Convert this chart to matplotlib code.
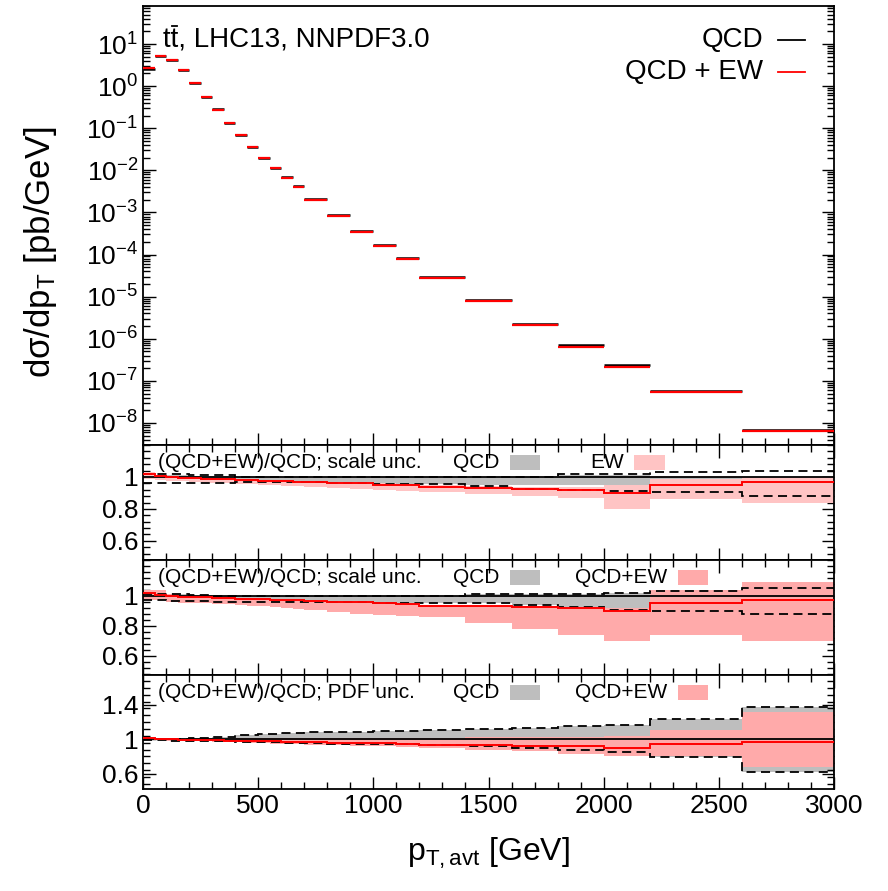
import numpy as np
import matplotlib
matplotlib.use('Agg')
import matplotlib.pyplot as plt
from matplotlib.ticker import MultipleLocator, FixedLocator, LogLocator, NullFormatter, FixedFormatter
from matplotlib.lines import Line2D
from matplotlib.patches import Rectangle

plt.rcParams['font.family'] = ['Liberation Sans', 'DejaVu Sans']
plt.rcParams['mathtext.fontset'] = 'custom'
plt.rcParams['mathtext.rm'] = 'Liberation Sans'
plt.rcParams['mathtext.it'] = 'Liberation Sans:italic'
plt.rcParams['mathtext.sf'] = 'Liberation Sans'

# ---------------- data ----------------
edges = [0, 50, 100, 150, 200, 250, 300, 350, 400, 450, 500, 550, 600, 650, 700,
         800, 900, 1000, 1100, 1200, 1400, 1600, 1800, 2000, 2200, 2600, 3000]

qcd = [2.6, 5.3, 4.2, 2.4, 1.2, 0.55, 0.28, 0.134, 0.070, 0.0357, 0.020, 0.0116,
       0.0068, 0.0042, 0.0021, 8.5e-4, 3.6e-4, 1.7e-4, 8.2e-5, 3.0e-5, 8.3e-6,
       2.3e-6, 7.0e-7, 2.4e-7, 5.6e-8, 6.8e-9]

ratio = [1.02, 1.005, 0.998, 0.995, 0.993, 0.99, 0.987, 0.985, 0.982, 0.98, 0.977,
         0.975, 0.972, 0.97, 0.966, 0.962, 0.96, 0.952, 0.948, 0.935, 0.93, 0.922,
         0.918, 0.90, 0.95, 0.97]

# panel 1: scale unc., QCD (grey) and EW (pink)
p1_grey_lo = [0.985, 0.98, 0.978, 0.976, 0.975, 0.974, 0.972, 0.97, 0.97, 0.968, 0.967,
              0.966, 0.965, 0.964, 0.963, 0.96, 0.958, 0.957, 0.955, 0.955, 0.952, 0.95,
              0.95, 0.95, 0.96, 0.965]
p1_grey_hi = [1.01, 1.01, 1.01, 1.01, 1.005, 1.005, 1.005, 1.005, 1.0, 1.0, 1.0, 1.0,
              1.0, 1.0, 1.0, 1.0, 1.0, 1.0, 1.0, 1.0, 1.0, 1.0, 1.01, 1.01, 1.0, 1.0]
p1_pink_lo = [0.99, 0.98, 0.975, 0.972, 0.968, 0.965, 0.962, 0.96, 0.957, 0.955, 0.952,
              0.95, 0.945, 0.942, 0.94, 0.93, 0.925, 0.92, 0.915, 0.905, 0.895, 0.88,
              0.87, 0.80, 0.86, 0.84]
p1_pink_hi = [1.03, 1.01, 1.0, 0.998, 0.995, 0.993, 0.99, 0.988, 0.985, 0.983, 0.98,
              0.978, 0.975, 0.973, 0.97, 0.968, 0.965, 0.96, 0.958, 0.95, 0.945, 0.94,
              0.935, 0.95, 0.99, 1.0]
p1_dash_hi = [1.02, 1.02, 1.02, 1.02, 1.015, 1.015, 1.015, 1.015, 1.0, 1.0, 1.0, 1.0,
              1.0, 1.0, 1.0, 1.0, 1.0, 1.0, 1.0, 1.0, 1.0, 1.0, 1.02, 1.02, 1.03, 1.04]
p1_dash_lo = [0.96, 0.96, 0.96, 0.96, 0.965, 0.965, 0.965, 0.965, 0.968, 0.968, 0.968,
              0.968, 0.968, 0.968, 0.966, 0.965, 0.963, 0.958, 0.956, 0.955, 0.945, 0.925,
              0.92, 0.91, 0.905, 0.88]

# panel 2: scale unc., QCD (grey) and QCD+EW (pink)
p2_dash_hi = [1.01, 1.01, 1.01, 1.01, 1.005, 1.005, 1.0, 1.0, 1.0, 1.0, 1.0, 1.0, 1.0,
              1.0, 1.0, 1.0, 1.0, 1.0, 1.0, 1.0, 1.01, 1.01, 1.01, 1.02, 1.035, 1.05]
p2_dash_lo = [0.97, 0.97, 0.965, 0.965, 0.965, 0.965, 0.962, 0.962, 0.96, 0.96, 0.96,
              0.96, 0.96, 0.96, 0.958, 0.958, 0.956, 0.955, 0.953, 0.952, 0.95, 0.94,
              0.925, 0.905, 0.90, 0.88]
p2_pink_hi = [1.04, 1.04, 1.01, 1.0, 0.995, 0.99, 0.988, 0.985, 0.982, 0.98, 0.977,
              0.975, 0.972, 0.97, 0.966, 0.962, 0.96, 0.952, 0.948, 0.94, 0.935, 0.93,
              0.925, 0.92, 1.04, 1.09]
p2_pink_lo = [0.97, 0.97, 0.96, 0.955, 0.954, 0.95, 0.945, 0.943, 0.94, 0.935, 0.93,
              0.924, 0.92, 0.915, 0.908, 0.89, 0.88, 0.874, 0.865, 0.856, 0.817, 0.776,
              0.737, 0.70, 0.737, 0.70]

# panel 3: PDF unc., QCD (grey) and QCD+EW (pink)
p3_dash_hi = [1.0, 1.0, 1.0, 1.0, 1.02, 1.02, 1.03, 1.03, 1.05, 1.05, 1.06, 1.06, 1.07,
              1.07, 1.08, 1.08, 1.09, 1.1, 1.1, 1.11, 1.12, 1.13, 1.15, 1.17, 1.24, 1.38]
p3_dash_lo = [0.99, 0.99, 0.985, 0.985, 0.98, 0.98, 0.975, 0.975, 0.97, 0.97, 0.965,
              0.965, 0.96, 0.96, 0.955, 0.95, 0.95, 0.94, 0.94, 0.93, 0.92, 0.90, 0.88,
              0.85, 0.79, 0.62]
p3_pink_hi = [1.02, 1.0, 1.0, 1.0, 1.0, 1.0, 1.0, 1.0, 1.01, 1.01, 1.01, 1.01, 1.02,
              1.02, 1.02, 1.02, 1.02, 1.02, 1.02, 1.02, 1.03, 1.03, 1.03, 1.04, 1.11, 1.32]
p3_pink_lo = [0.99, 0.99, 0.985, 0.98, 0.975, 0.975, 0.97, 0.965, 0.965, 0.96, 0.955,
              0.95, 0.945, 0.94, 0.935, 0.93, 0.925, 0.92, 0.915, 0.90, 0.88, 0.86, 0.83,
              0.81, 0.81, 0.68]

xticks = [0, 500, 1000, 1500, 2000, 2500, 3000]

# ---------------- figure ----------------
W, H = 888, 891
fig = plt.figure(figsize=(W / 100, H / 100), dpi=100)
XL, XR = 143, 834

def make_ax(top, bot):
    return fig.add_axes([XL / W, 1 - bot / H, (XR - XL) / W, (bot - top) / H])

ax0 = make_ax(6, 445)
ax1 = make_ax(445, 560)
ax2 = make_ax(560, 675)
ax3 = make_ax(675, 789)

edges_a = np.array(edges, dtype=float)
qcd_a = np.array(qcd)
ratio_a = np.array(ratio)
qcdew_a = qcd_a * ratio_a

GREY = '#bebebe'
PINK1 = '#ffc4c4'
PINK2 = '#ffaaaa'
FS_TICK = 19

# main panel
ax0.hlines(qcd_a, edges_a[:-1], edges_a[1:], color='black', lw=1.8, zorder=3)
ax0.hlines(qcdew_a, edges_a[:-1], edges_a[1:], color='red', lw=1.6, zorder=4)
ax0.set_yscale('log')
ax0.set_ylim(3e-9, 80)
ax0.set_xlim(0, 3000)
ax0.yaxis.set_major_locator(FixedLocator([10.0 ** k for k in range(-8, 2)]))
ax0.yaxis.set_major_formatter(FixedFormatter(
    [r'$10^{%d}$' % k if k >= 0 else r'$10^{-%d}$' % (-k) for k in range(-8, 2)]))
ax0.yaxis.set_minor_locator(LogLocator(base=10, subs=np.arange(2, 10), numticks=30))
ax0.yaxis.set_minor_formatter(NullFormatter())
ax0.set_ylabel('d\u03c3/dp$_\\mathrm{T}$ [pb/GeV]', fontsize=25)
ax0.yaxis.set_label_coords(-0.122, 0.44)

# title with a bar over the second t
title = ax0.text(0.029, 0.923, 'tt, LHC13, NNPDF3.0', transform=ax0.transAxes,
                 fontsize=20, ha='left', va='center')
fig.canvas.draw()
renderer = fig.canvas.get_renderer()
tmp = ax0.text(0.029, 0.923, 't', transform=ax0.transAxes, fontsize=20, ha='left', va='center')
tw = tmp.get_window_extent(renderer).width
tb = tmp.get_window_extent(renderer)
tmp.remove()
x0d = tb.x0 + tw + 1.0
x1d = tb.x0 + 2 * tw - 1.0
ybar = tb.y1 + 1.0
inv = ax0.transAxes.inverted()
(bx0, by), (bx1, _) = inv.transform([(x0d, ybar), (x1d, ybar)])
ax0.add_line(Line2D([bx0, bx1], [by, by], transform=ax0.transAxes, color='black', lw=1.3))

ax0.text(0.898, 0.923, 'QCD', transform=ax0.transAxes, fontsize=20, ha='right', va='center')
ax0.text(0.898, 0.850, 'QCD + EW', transform=ax0.transAxes, fontsize=20, ha='right', va='center')
ax0.add_line(Line2D([0.919, 0.958], [0.923, 0.923], transform=ax0.transAxes, color='black', lw=1.3))
ax0.add_line(Line2D([0.919, 0.958], [0.850, 0.850], transform=ax0.transAxes, color='red', lw=1.3))

def ratio_panel(ax, grey_lo, grey_hi, pink_lo, pink_hi, pink_col, dash_lo, dash_hi,
                label, pinklabel, pinkx, boxx):
    ax.stairs(grey_hi, edges_a, baseline=grey_lo, fill=True, color=GREY, lw=0, zorder=1)
    ax.stairs(pink_hi, edges_a, baseline=pink_lo, fill=True, color=pink_col, lw=0, zorder=2)
    ax.axhline(1.0, color='black', lw=1.3, zorder=3)
    ax.stairs(dash_hi, edges_a, baseline=None, color='black', lw=1.3, ls=(0, (5, 3)), zorder=4)
    ax.stairs(dash_lo, edges_a, baseline=None, color='black', lw=1.3, ls=(0, (5, 3)), zorder=4)
    ax.stairs(ratio_a, edges_a, baseline=None, color='red', lw=1.4, zorder=5)
    ax.set_xlim(0, 3000)
    ax.text(0.0217, 0.845, label, transform=ax.transAxes, fontsize=15, ha='left', va='center')
    ax.text(0.449, 0.845, 'QCD', transform=ax.transAxes, fontsize=15, ha='left', va='center')
    ax.add_patch(Rectangle((0.531, 0.78), 0.044, 0.13, transform=ax.transAxes,
                           color=GREY, lw=0))
    ax.text(pinkx, 0.845, pinklabel, transform=ax.transAxes, fontsize=15, ha='left', va='center')
    ax.add_patch(Rectangle((boxx, 0.78), 0.044, 0.13, transform=ax.transAxes,
                           color=pink_col, lw=0))

ratio_panel(ax1, p1_grey_lo, p1_grey_hi, p1_pink_lo, p1_pink_hi, PINK1, p1_dash_lo, p1_dash_hi,
            '(QCD+EW)/QCD; scale unc.', 'EW', 0.647, 0.711)
ratio_panel(ax2, p2_dash_lo, p2_dash_hi, p2_pink_lo, p2_pink_hi, PINK2, p2_dash_lo, p2_dash_hi,
            '(QCD+EW)/QCD; scale unc.', 'QCD+EW', 0.625, 0.774)
ratio_panel(ax3, p3_dash_lo, p3_dash_hi, p3_pink_lo, p3_pink_hi, PINK2, p3_dash_lo, p3_dash_hi,
            '(QCD+EW)/QCD; PDF unc.', 'QCD+EW', 0.625, 0.774)

ax1.set_ylim(0.48, 1.2)
ax2.set_ylim(0.47, 1.24)
ax3.set_ylim(0.42, 1.75)
for ax in (ax1, ax2):
    ax.yaxis.set_major_locator(FixedLocator([0.6, 0.8, 1.0]))
    ax.yaxis.set_major_formatter(FixedFormatter(['0.6', '0.8', '1']))
    ax.yaxis.set_minor_locator(MultipleLocator(0.04))
ax3.yaxis.set_major_locator(FixedLocator([0.6, 1.0, 1.4]))
ax3.yaxis.set_major_formatter(FixedFormatter(['0.6', '1', '1.4']))
ax3.yaxis.set_minor_locator(MultipleLocator(0.08))

for ax in (ax0, ax1, ax2, ax3):
    ax.xaxis.set_major_locator(FixedLocator(xticks))
    ax.xaxis.set_minor_locator(MultipleLocator(100))
    ax.tick_params(which='both', direction='in', left=True, right=True,
                   bottom=True, top=(ax is not ax0), labelsize=FS_TICK, width=1.0)
    ax.tick_params(which='major', length=9)
    ax.tick_params(which='minor', length=5)
    for s in ax.spines.values():
        s.set_linewidth(1.3)
    if ax is not ax3:
        ax.tick_params(labelbottom=False)

ax3.set_xticklabels([str(t) for t in xticks])
ax3.set_xlabel(r'p$_\mathrm{T,avt}$ [GeV]', fontsize=23, labelpad=13)

fig.savefig('out.png', dpi=100)
